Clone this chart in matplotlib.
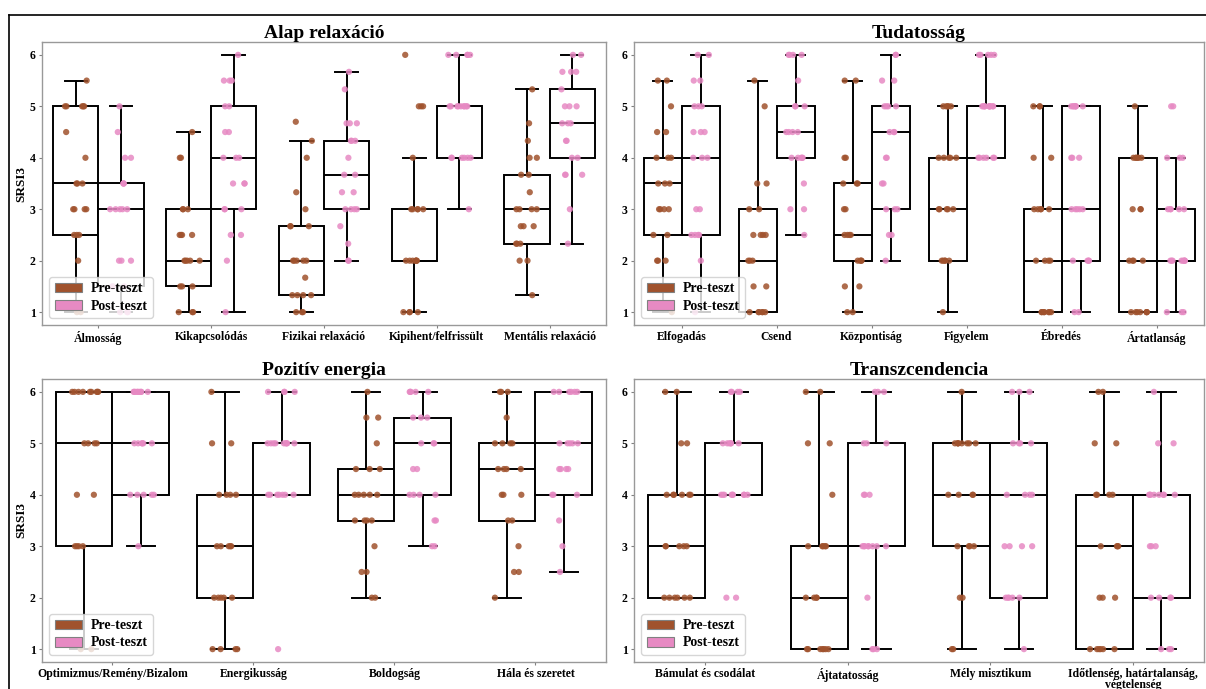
import numpy as np
import pandas as pd
import matplotlib
matplotlib.use("Agg")
import matplotlib.pyplot as plt
import seaborn as sns
from matplotlib.patches import Patch
from matplotlib.lines import Line2D

plt.rcParams['font.family'] = ['Liberation Serif', 'DejaVu Serif']
plt.rcParams['font.weight'] = 'bold'
plt.rcParams['axes.titleweight'] = 'bold'
plt.rcParams['axes.labelweight'] = 'bold'

PRE = '#a0522d'
POST = '#e78ac3'
groups = ['Pre-teszt', 'Post-teszt']

# ---- Alap relaxáció
alap_items = ['Álmosság', 'Kikapcsolódás', 'Fizikai relaxáció', 'Kipihent/felfrissült', 'Mentális relaxáció']
alap_pre = [
    [1, 1, 2, 2.5, 2.5, 2.5, 3, 3, 3, 3, 3.5, 3.5, 3.5, 4, 4.5, 5, 5, 5, 5, 5, 5.5],
    [1, 1, 1, 1.5, 1.5, 1.5, 2, 2, 2, 2, 2, 2.5, 2.5, 2.5, 2.5, 3, 3, 3, 4, 4, 4.5],
    [1, 1, 1, 1.33, 1.33, 1.33, 1.33, 1.67, 2, 2, 2, 2, 2, 2.67, 2.67, 2.67, 3, 3.33, 4, 4.33, 4.7],
    [1, 1, 1, 1, 2, 2, 2, 2, 2, 2, 2, 3, 3, 3, 3, 3, 4, 5, 5, 5, 6],
    [1.33, 2, 2, 2.33, 2.33, 2.33, 2.67, 2.67, 2.67, 3, 3, 3, 3, 3.33, 3.67, 3.67, 4, 4, 4.33, 4.67, 5.33],
]
alap_post = [
    [1, 1, 1, 1.5, 1.5, 1.5, 2, 2, 2, 3, 3, 3, 3, 3, 3.5, 3.5, 3.5, 4, 4, 4.5, 5],
    [1, 2, 2.5, 2.5, 3, 3, 3, 3.5, 3.5, 3.5, 4, 4, 4, 4.5, 4.5, 5, 5, 5.5, 5.5, 5.5, 6],
    [2, 2, 2.33, 2.67, 3, 3, 3, 3, 3.33, 3.33, 3.67, 3.67, 4, 4.33, 4.33, 4.33, 4.67, 4.67, 4.67, 5.33, 5.67],
    [3, 4, 4, 4, 4, 4, 4, 5, 5, 5, 5, 5, 5, 5, 5, 5, 6, 6, 6, 6, 6],
    [2.33, 3, 3.67, 3.67, 3.67, 4, 4, 4.33, 4.33, 4.67, 4.67, 4.67, 5, 5, 5, 5.33, 5.67, 5.67, 5.67, 6, 6],
]

# ---- Tudatosság
tudat_items = ['Elfogadás', 'Csend', 'Központiság', 'Figyelem', 'Ébredés', 'Ártatlanság']
tudat_pre = [
    [1, 2, 2, 2, 2.5, 2.5, 3, 3, 3, 3, 3.5, 3.5, 3.5, 4, 4, 4, 4.5, 4.5, 5, 5.5, 5.5],
    [1, 1, 1, 1, 1, 1, 1.5, 1.5, 2, 2, 2, 2.5, 2.5, 2.5, 2.5, 3, 3, 3.5, 3.5, 5, 5.5],
    [1, 1, 1.5, 1.5, 2, 2, 2, 2, 2.5, 2.5, 2.5, 2.5, 3, 3, 3.5, 3.5, 3.5, 4, 4, 5.5, 5.5],
    [1, 2, 2, 2, 2, 2, 3, 3, 3, 3, 3, 4, 4, 4, 4, 4, 5, 5, 5, 5, 5],
    [1, 1, 1, 1, 1, 1, 1, 2, 2, 2, 2, 3, 3, 3, 3, 3, 4, 4, 5, 5, 5],
    [1, 1, 1, 1, 1, 1, 1, 2, 2, 2, 2, 3, 3, 3, 4, 4, 4, 4, 4, 4, 5],
]
tudat_post = [
    [1, 2, 2.5, 2.5, 2.5, 2.5, 3, 3, 4, 4, 4, 4.5, 4.5, 4.5, 5, 5, 5, 5.5, 5.5, 6, 6],
    [2.5, 3, 3, 3.5, 4, 4, 4, 4, 4, 4.5, 4.5, 4.5, 4.5, 5, 5, 5, 5.5, 6, 6, 6, 6],
    [2, 2.5, 2.5, 3, 3, 3, 3.5, 3.5, 4, 4, 4.5, 4.5, 4.5, 5, 5, 5, 5, 5.5, 5.5, 6, 6],
    [4, 4, 4, 4, 4, 4, 5, 5, 5, 5, 5, 5, 5, 5, 5, 5, 6, 6, 6, 6, 6],
    [1, 1, 2, 2, 2, 2, 3, 3, 3, 3, 3, 4, 4, 4, 5, 5, 5, 5, 5, 5, 5],
    [1, 1, 1, 2, 2, 2, 2, 2, 2, 2, 2, 3, 3, 3, 3, 3, 4, 4, 4, 5, 5],
]

# ---- Pozitív energia
poz_items = ['Optimizmus/Remény/Bizalom', 'Energikusság', 'Boldogság', 'Hála és szeretet']
poz_pre = [
    [1, 1, 3, 3, 3, 3, 4, 4, 5, 5, 5, 5, 6, 6, 6, 6, 6, 6, 6, 6, 6],
    [1, 1, 1, 1, 2, 2, 2, 2, 2, 3, 3, 3, 3, 3, 4, 4, 4, 4, 5, 5, 6],
    [2, 2, 2.5, 2.5, 3, 3.5, 3.5, 3.5, 3.5, 4, 4, 4, 4, 4, 4.5, 4.5, 4.5, 5, 5.5, 5.5, 6],
    [2, 2.5, 2.5, 3, 3.5, 3.5, 4, 4, 4, 4.5, 4.5, 4.5, 4.5, 5, 5, 5, 5, 5.5, 6, 6, 6],
]
poz_post = [
    [3, 4, 4, 4, 4, 4, 5, 5, 5, 5, 5, 5, 6, 6, 6, 6, 6, 6, 6, 6, 6],
    [1, 4, 4, 4, 4, 4, 4, 4, 5, 5, 5, 5, 5, 5, 5, 5, 5, 6, 6, 6, 6],
    [3, 3, 3.5, 3.5, 4, 4, 4, 4, 4.5, 4.5, 5, 5, 5, 5.5, 5.5, 5.5, 6, 6, 6, 6, 6],
    [2.5, 3, 3.5, 4, 4, 4, 4.5, 4.5, 4.5, 4.5, 5, 5, 5, 5, 5, 6, 6, 6, 6, 6, 6],
]

# ---- Transzcendencia
trans_items = ['Bámulat és csodálat', 'Ájtatatosság', 'Mély misztikum',
               'Időtlenség, határtalanság,\nvégtelenség']
trans_pre = [
    [2, 2, 2, 2, 2, 2, 3, 3, 3, 3, 3, 4, 4, 4, 4, 4, 4, 5, 5, 6, 6],
    [1, 1, 1, 1, 1, 1, 1, 2, 2, 2, 2, 3, 3, 3, 3, 3, 4, 5, 5, 6, 6],
    [1, 1, 2, 2, 3, 3, 3, 3, 4, 4, 4, 4, 5, 5, 5, 5, 5, 5, 5, 5, 6],
    [1, 1, 1, 1, 1, 1, 2, 2, 2, 3, 3, 3, 3, 4, 4, 4, 4, 5, 5, 6, 6],
]
trans_post = [
    [2, 2, 4, 4, 4, 4, 4, 4, 4, 4, 4, 5, 5, 5, 5, 5, 5, 6, 6, 6, 6],
    [1, 1, 1, 2, 3, 3, 3, 3, 3, 3, 3, 3, 4, 4, 4, 5, 5, 5, 6, 6, 6],
    [1, 2, 2, 2, 2, 2, 3, 3, 3, 3, 4, 4, 4, 4, 5, 5, 5, 5, 6, 6, 6],
    [1, 1, 1, 2, 2, 2, 2, 3, 3, 3, 4, 4, 4, 4, 4, 4, 4, 4, 5, 5, 6],
]


def long_df(items, pre, post):
    rows = []
    for item, a, b in zip(items, pre, post):
        rows += [(item, groups[0], v) for v in a]
        rows += [(item, groups[1], v) for v in b]
    return pd.DataFrame(rows, columns=['item', 'group', 'score'])


def panel(ax, title, items, pre, post, ylabel=True):
    n = len(items)
    x = np.arange(n)
    lp = dict(color='black', linewidth=1.4)
    for data, off in ((pre, -0.2), (post, 0.2)):
        ax.boxplot(data, positions=x + off, widths=0.4, capwidths=0.2,
                   patch_artist=True, showfliers=False, manage_ticks=False,
                   boxprops=dict(facecolor='white', edgecolor='black', linewidth=1.4),
                   medianprops=lp, whiskerprops=lp, capprops=lp, zorder=2)
    df = long_df(items, pre, post)
    sns.stripplot(data=df, x='item', y='score', hue='group', order=items,
                  hue_order=groups, palette=[PRE, POST], dodge=True, jitter=0.2,
                  size=4.5, alpha=0.85, linewidth=0, legend=False, ax=ax, zorder=3)
    ax.set_xlim(-0.5, n - 0.5)
    ax.set_ylim(0.75, 6.25)
    ax.set_yticks([1, 2, 3, 4, 5, 6])
    ax.set_xticks(x)
    ax.set_xticklabels(items, linespacing=0.85)
    ax.set_xlabel('')
    ax.set_ylabel('SRSI3' if ylabel else '', fontsize=9.5, labelpad=2)
    ax.set_title(title, fontsize=14, pad=3)
    ax.tick_params(labelsize=8.5, color='0.5', length=2.5, pad=2)
    for s in ax.spines.values():
        s.set_color('0.6')
        s.set_linewidth(1)
    handles = [Patch(facecolor=PRE, edgecolor='0.5', linewidth=0.8),
               Patch(facecolor=POST, edgecolor='0.5', linewidth=0.8)]
    ax.legend(handles, groups, loc='lower left', fontsize=10, labelspacing=0.3,
              handletextpad=0.6, borderpad=0.4)


np.random.seed(0)
fig = plt.figure(figsize=(12.06, 6.89), dpi=100)
W, H = 1206, 689
def rect(l, t, r, b):
    return [l / W, 1 - b / H, (r - l) / W, (b - t) / H]

ax1 = fig.add_axes(rect(42, 42, 606, 325))
ax2 = fig.add_axes(rect(634, 42, 1204, 325))
ax3 = fig.add_axes(rect(42, 379, 606, 662))
ax4 = fig.add_axes(rect(634, 379, 1204, 662))

panel(ax1, 'Alap relaxáció', alap_items, alap_pre, alap_post)
panel(ax2, 'Tudatosság', tudat_items, tudat_pre, tudat_post, ylabel=False)
panel(ax3, 'Pozitív energia', poz_items, poz_pre, poz_post)
panel(ax4, 'Transzcendencia', trans_items, trans_pre, trans_post, ylabel=False)

# frame of the original screenshot
fig.add_artist(Line2D([9 / W, 1], [1 - 15 / H] * 2, transform=fig.transFigure, color='black', lw=1.2))
fig.add_artist(Line2D([9 / W] * 2, [1 - 15 / H, 0], transform=fig.transFigure, color='black', lw=1.2))

fig.savefig('out.png', dpi=100)
